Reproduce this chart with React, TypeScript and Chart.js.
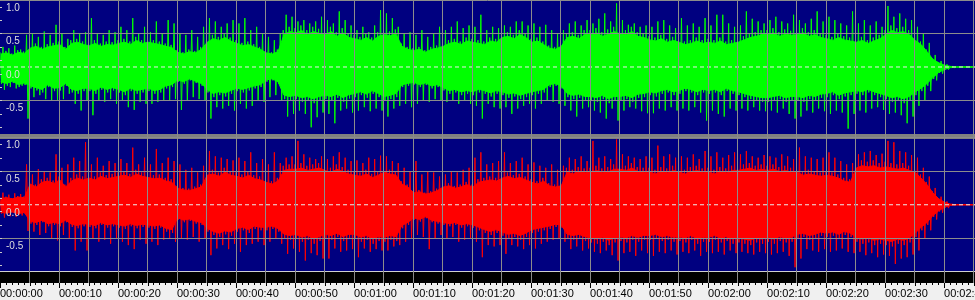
import React, { useEffect, useRef } from 'react';
import { Chart, registerables } from 'chart.js';

Chart.register(...registerables);

// ---- Time axis (seconds) ----
const TIME_MAX = 165.25;
const GRID_STEP_SEC = 5;
const LABEL_STEP_SEC = 10;

// ---- Amplitude axis ----
const AMP_STEP = 0.5;
const AMP_LABEL_MIN = -0.5;
const AMP_LABEL_MAX = 1.0;
const EDGE_MARKS = [0.9, 0.7, 0.5, 0.3, 0.1, -0.1, -0.3, -0.5, -0.7, -0.9];

// One value per second (index = second). Body = dense envelope, peak = spike tips (at +0.5 s).
// ---- Left channel (green) ----
const greenBodyTop = [
  0.22, 0.24, 0.2, 0.25, 0.23,
  0.32, 0.35, 0.3, 0.34, 0.36,
  0.38, 0.3, 0.4, 0.42, 0.38,
  0.36, 0.4, 0.35, 0.38, 0.37,
  0.4, 0.42, 0.38, 0.45, 0.4,
  0.42, 0.4, 0.38, 0.35, 0.33,
  0.25, 0.22, 0.26, 0.24, 0.3,
  0.42, 0.48, 0.45, 0.5, 0.44,
  0.4, 0.36, 0.38, 0.34, 0.3,
  0.24, 0.22, 0.26, 0.55, 0.6,
  0.58, 0.62, 0.55, 0.6, 0.57,
  0.55, 0.6, 0.52, 0.58, 0.5,
  0.48, 0.45, 0.5, 0.44, 0.52,
  0.55, 0.53, 0.56, 0.35, 0.3,
  0.28, 0.3, 0.25, 0.3, 0.32,
  0.35, 0.4, 0.42, 0.38, 0.44,
  0.42, 0.4, 0.38, 0.44, 0.42,
  0.5, 0.52, 0.48, 0.55, 0.5,
  0.42, 0.44, 0.38, 0.32, 0.3,
  0.35, 0.5, 0.52, 0.48, 0.55,
  0.55, 0.58, 0.52, 0.56, 0.6,
  0.56, 0.55, 0.6, 0.52, 0.5,
  0.46, 0.44, 0.48, 0.42, 0.45,
  0.42, 0.38, 0.4, 0.44, 0.4,
  0.42, 0.4, 0.44, 0.38, 0.4,
  0.42, 0.46, 0.5, 0.52, 0.55,
  0.55, 0.58, 0.52, 0.56, 0.54,
  0.55, 0.58, 0.52, 0.55, 0.5,
  0.48, 0.45, 0.5, 0.46, 0.44,
  0.42, 0.45, 0.4, 0.44, 0.48,
  0.55, 0.62, 0.58, 0.6, 0.55,
  0.45, 0.38, 0.26, 0.13, 0.07,
  0.03, 0.01, 0, 0, 0, 0,
];
const greenBodyBottom = [
  0.25, 0.28, 0.24, 0.3, 0.27,
  0.32, 0.35, 0.38, 0.3, 0.36,
  0.35, 0.28, 0.38, 0.4, 0.36,
  0.36, 0.4, 0.34, 0.38, 0.35,
  0.38, 0.42, 0.36, 0.4, 0.38,
  0.36, 0.4, 0.38, 0.32, 0.3,
  0.22, 0.25, 0.2, 0.24, 0.28,
  0.38, 0.45, 0.42, 0.44, 0.4,
  0.36, 0.38, 0.35, 0.32, 0.3,
  0.22, 0.2, 0.25, 0.48, 0.5,
  0.48, 0.52, 0.5, 0.54, 0.5,
  0.48, 0.5, 0.46, 0.52, 0.47,
  0.45, 0.42, 0.46, 0.4, 0.45,
  0.5, 0.48, 0.45, 0.3, 0.28,
  0.26, 0.3, 0.27, 0.32, 0.3,
  0.35, 0.4, 0.38, 0.42, 0.4,
  0.42, 0.38, 0.4, 0.44, 0.4,
  0.42, 0.46, 0.44, 0.48, 0.45,
  0.42, 0.4, 0.38, 0.3, 0.28,
  0.32, 0.45, 0.48, 0.46, 0.5,
  0.5, 0.52, 0.48, 0.54, 0.5,
  0.5, 0.48, 0.52, 0.46, 0.45,
  0.42, 0.44, 0.4, 0.38, 0.42,
  0.4, 0.36, 0.38, 0.42, 0.38,
  0.4, 0.38, 0.42, 0.36, 0.4,
  0.42, 0.45, 0.48, 0.5, 0.52,
  0.52, 0.5, 0.48, 0.52, 0.5,
  0.5, 0.52, 0.48, 0.5, 0.46,
  0.45, 0.42, 0.48, 0.44, 0.42,
  0.4, 0.42, 0.38, 0.42, 0.45,
  0.48, 0.52, 0.5, 0.54, 0.5,
  0.42, 0.36, 0.28, 0.18, 0.09,
  0.04, 0.01, 0, 0, 0, 0,
];
const greenPeakTop = [
  0.3, 0.28, 0.32, 0.26, 0.48,
  0.5, 0.45, 0.53, 0.48, 0.63,
  0.5, 0.42, 0.55, 0.5, 0.52,
  0.73, 0.5, 0.48, 0.55, 0.52,
  0.6, 0.55, 0.73, 0.5, 0.6,
  0.52, 0.68, 0.5, 0.7, 0.65,
  0.5, 0.48, 0.55, 0.45, 0.6,
  0.73, 0.68, 0.6, 0.65, 0.7,
  0.65, 0.73, 0.55, 0.6, 0.5,
  0.45, 0.4, 0.5, 0.78, 0.75,
  0.68, 0.7, 0.65, 0.68, 0.75,
  0.7, 0.65, 0.83, 0.7, 0.62,
  0.55, 0.6, 0.52, 0.62, 0.85,
  0.8, 0.73, 0.6, 0.5, 0.52,
  0.48, 0.55, 0.45, 0.5, 0.6,
  0.55, 0.6, 0.68, 0.58, 0.62,
  0.6, 0.78, 0.55, 0.6, 0.58,
  0.62, 0.6, 0.68, 0.68, 0.62,
  0.65, 0.6, 0.63, 0.55, 0.5,
  0.55, 0.65, 0.68, 0.62, 0.7,
  0.65, 0.72, 0.8, 0.68, 0.95,
  0.7, 0.63, 0.65, 0.6, 0.62,
  0.6, 0.68, 0.7, 0.62, 0.58,
  0.73, 0.62, 0.65, 0.6, 0.73,
  0.62, 0.78, 0.78, 0.65, 0.6,
  0.62, 0.83, 0.72, 0.68, 0.65,
  0.7, 0.75, 0.68, 0.65, 0.78,
  0.7, 0.65, 0.72, 0.83, 0.68,
  0.75, 0.7, 0.65, 0.62, 0.83,
  0.65, 0.7, 0.62, 0.68, 0.6,
  0.91, 0.75, 0.8, 0.72, 0.7,
  0.6, 0.5, 0.36, 0.18, 0.09,
  0.04, 0.01, 0, 0, 0, 0,
];
const greenPeakBottom = [
  0.34, 0.3, 0.32, 0.28, 0.77,
  0.45, 0.42, 0.48, 0.5, 0.5,
  0.48, 0.4, 0.55, 0.65, 0.5,
  0.72, 0.5, 0.52, 0.48, 0.55,
  0.5, 0.6, 0.64, 0.52, 0.55,
  0.55, 0.52, 0.5, 0.5, 0.48,
  0.64, 0.5, 0.45, 0.48, 0.5,
  0.77, 0.6, 0.62, 0.58, 0.65,
  0.55, 0.62, 0.58, 0.5, 0.52,
  0.45, 0.42, 0.5, 0.74, 0.7,
  0.65, 0.7, 0.9, 0.75, 0.68,
  0.7, 0.84, 0.65, 0.62, 0.68,
  0.65, 0.6, 0.66, 0.62, 0.65,
  0.74, 0.62, 0.58, 0.55, 0.6,
  0.55, 0.5, 0.52, 0.48, 0.5,
  0.52, 0.5, 0.55, 0.5, 0.55,
  0.58, 0.77, 0.55, 0.6, 0.62,
  0.6, 0.7, 0.62, 0.58, 0.55,
  0.62, 0.55, 0.5, 0.52, 0.55,
  0.58, 0.65, 0.74, 0.62, 0.6,
  0.65, 0.68, 0.77, 0.62, 0.8,
  0.65, 0.6, 0.62, 0.66, 0.69,
  0.69, 0.62, 0.65, 0.6, 0.65,
  0.62, 0.65, 0.6, 0.68, 0.8,
  0.65, 0.7, 0.74, 0.62, 0.65,
  0.62, 0.65, 0.6, 0.65, 0.66,
  0.65, 0.68, 0.62, 0.7, 0.77,
  0.74, 0.65, 0.68, 0.62, 0.66,
  0.7, 0.65, 0.68, 0.92, 0.7,
  0.65, 0.68, 0.62, 0.6, 0.64,
  0.7, 0.68, 0.72, 0.84, 0.74,
  0.58, 0.5, 0.36, 0.2, 0.1,
  0.04, 0.01, 0, 0, 0, 0,
];

// ---- Right channel (red) ----
const redBodyTop = [
  0.11, 0.12, 0.1, 0.13, 0.12,
  0.35, 0.3, 0.38, 0.4, 0.36,
  0.42, 0.3, 0.4, 0.45, 0.42,
  0.45, 0.42, 0.48, 0.44, 0.46,
  0.48, 0.5, 0.46, 0.52, 0.48,
  0.46, 0.44, 0.45, 0.4, 0.38,
  0.28, 0.25, 0.24, 0.27, 0.3,
  0.5, 0.52, 0.48, 0.55, 0.5,
  0.48, 0.45, 0.5, 0.44, 0.42,
  0.38, 0.35, 0.4, 0.58, 0.6,
  0.6, 0.62, 0.58, 0.6, 0.62,
  0.58, 0.55, 0.6, 0.56, 0.52,
  0.5, 0.48, 0.52, 0.46, 0.5,
  0.55, 0.52, 0.5, 0.35, 0.3,
  0.2, 0.22, 0.18, 0.2, 0.24,
  0.3, 0.32, 0.28, 0.3, 0.34,
  0.3, 0.38, 0.4, 0.42, 0.4,
  0.45, 0.48, 0.44, 0.46, 0.42,
  0.38, 0.35, 0.4, 0.32, 0.3,
  0.32, 0.55, 0.52, 0.56, 0.54,
  0.55, 0.58, 0.54, 0.56, 0.6,
  0.6, 0.58, 0.62, 0.56, 0.55,
  0.55, 0.52, 0.56, 0.54, 0.58,
  0.55, 0.52, 0.56, 0.58, 0.54,
  0.55, 0.52, 0.56, 0.54, 0.58,
  0.58, 0.6, 0.62, 0.58, 0.6,
  0.58, 0.6, 0.56, 0.58, 0.55,
  0.55, 0.5, 0.52, 0.5, 0.48,
  0.5, 0.48, 0.45, 0.4, 0.38,
  0.62, 0.66, 0.64, 0.66, 0.62,
  0.64, 0.62, 0.6, 0.62, 0.58,
  0.55, 0.45, 0.34, 0.2, 0.1,
  0.04, 0.01, 0, 0, 0, 0,
];
const redBodyBottom = [
  0.13, 0.14, 0.12, 0.15, 0.13,
  0.28, 0.3, 0.26, 0.32, 0.3,
  0.32, 0.26, 0.33, 0.35, 0.32,
  0.33, 0.35, 0.3, 0.34, 0.32,
  0.34, 0.36, 0.32, 0.35, 0.33,
  0.34, 0.36, 0.34, 0.4, 0.42,
  0.22, 0.26, 0.24, 0.28, 0.3,
  0.4, 0.45, 0.48, 0.44, 0.46,
  0.4, 0.38, 0.42, 0.36, 0.38,
  0.38, 0.36, 0.4, 0.5, 0.52,
  0.5, 0.55, 0.52, 0.58, 0.54,
  0.5, 0.52, 0.48, 0.54, 0.5,
  0.5, 0.55, 0.52, 0.58, 0.54,
  0.55, 0.52, 0.54, 0.35, 0.3,
  0.22, 0.25, 0.2, 0.26, 0.28,
  0.3, 0.32, 0.3, 0.34, 0.32,
  0.34, 0.38, 0.42, 0.45, 0.42,
  0.46, 0.5, 0.48, 0.52, 0.48,
  0.42, 0.4, 0.38, 0.36, 0.33,
  0.34, 0.5, 0.52, 0.5, 0.54,
  0.56, 0.58, 0.55, 0.6, 0.56,
  0.54, 0.56, 0.52, 0.55, 0.52,
  0.52, 0.5, 0.54, 0.52, 0.55,
  0.54, 0.56, 0.52, 0.58, 0.55,
  0.55, 0.52, 0.56, 0.54, 0.58,
  0.56, 0.58, 0.6, 0.56, 0.58,
  0.55, 0.58, 0.54, 0.56, 0.55,
  0.5, 0.48, 0.52, 0.5, 0.46,
  0.48, 0.46, 0.5, 0.45, 0.48,
  0.55, 0.58, 0.56, 0.6, 0.58,
  0.6, 0.62, 0.58, 0.6, 0.56,
  0.48, 0.38, 0.3, 0.18, 0.1,
  0.04, 0.01, 0, 0, 0, 0,
];
const redPeakTop = [
  0.18, 0.15, 0.17, 0.16, 0.6,
  0.45, 0.53, 0.5, 0.48, 0.75,
  0.55, 0.6, 0.7, 0.65, 0.93,
  0.6, 0.7, 0.58, 0.65, 0.62,
  0.68, 0.62, 0.85, 0.6, 0.7,
  0.6, 0.83, 0.62, 0.7, 0.65,
  0.6, 0.52, 0.55, 0.48, 0.58,
  0.8, 0.72, 0.7, 0.68, 0.66,
  0.7, 0.65, 0.78, 0.62, 0.68,
  0.6, 0.78, 0.62, 0.7, 0.72,
  0.95, 0.75, 0.7, 0.68, 0.72,
  0.68, 0.72, 0.78, 0.7, 0.65,
  0.66, 0.62, 0.7, 0.68, 0.73,
  0.72, 0.65, 0.62, 0.55, 0.5,
  0.65, 0.45, 0.5, 0.48, 0.42,
  0.45, 0.5, 0.48, 0.52, 0.55,
  0.7, 0.78, 0.6, 0.62, 0.65,
  0.78, 0.62, 0.65, 0.7, 0.6,
  0.63, 0.58, 0.55, 0.6, 0.52,
  0.58, 0.7, 0.68, 0.72, 0.65,
  0.95, 0.7, 0.72, 0.68, 0.97,
  0.75, 0.72, 0.7, 0.68, 0.72,
  0.7, 0.88, 0.72, 0.75, 0.7,
  0.72, 0.7, 0.75, 0.68, 0.8,
  0.72, 0.78, 0.7, 0.74, 0.78,
  0.75, 0.8, 0.72, 0.7, 0.74,
  0.72, 0.7, 0.75, 0.72, 0.68,
  0.85, 0.72, 0.7, 0.68, 0.7,
  0.78, 0.7, 0.65, 0.6, 0.62,
  0.75, 0.78, 0.8, 0.74, 0.76,
  0.95, 0.93, 0.8, 0.78, 0.74,
  0.7, 0.55, 0.42, 0.25, 0.12,
  0.05, 0.01, 0, 0, 0, 0,
];
const redPeakBottom = [
  0.19, 0.17, 0.18, 0.16, 0.39,
  0.4, 0.45, 0.42, 0.5, 0.53,
  0.45, 0.5, 0.68, 0.55, 0.68,
  0.5, 0.55, 0.52, 0.58, 0.5,
  0.55, 0.6, 0.66, 0.52, 0.58,
  0.55, 0.6, 0.52, 0.5, 0.55,
  0.5, 0.52, 0.48, 0.55, 0.5,
  0.75, 0.65, 0.6, 0.66, 0.58,
  0.7, 0.6, 0.58, 0.55, 0.6,
  0.55, 0.5, 0.58, 0.73, 0.65,
  0.7, 0.83, 0.72, 0.75, 0.8,
  0.8, 0.65, 0.7, 0.68, 0.66,
  0.78, 0.65, 0.7, 0.66, 0.68,
  0.68, 0.62, 0.6, 0.55, 0.5,
  0.45, 0.48, 0.66, 0.5, 0.45,
  0.5, 0.48, 0.55, 0.52, 0.5,
  0.55, 0.78, 0.6, 0.62, 0.6,
  0.73, 0.6, 0.62, 0.66, 0.6,
  0.65, 0.58, 0.55, 0.52, 0.5,
  0.55, 0.66, 0.62, 0.68, 0.65,
  0.7, 0.72, 0.68, 0.75, 0.83,
  0.72, 0.7, 0.76, 0.68, 0.72,
  0.76, 0.7, 0.72, 0.68, 0.74,
  0.7, 0.72, 0.68, 0.76, 0.7,
  0.72, 0.7, 0.74, 0.68, 0.72,
  0.7, 0.72, 0.74, 0.7, 0.72,
  0.74, 0.72, 0.7, 0.76, 0.93,
  0.8, 0.66, 0.68, 0.7, 0.66,
  0.7, 0.68, 0.65, 0.7, 0.72,
  0.7, 0.75, 0.72, 0.78, 0.74,
  0.76, 0.88, 0.8, 0.78, 0.74,
  0.68, 0.5, 0.38, 0.22, 0.12,
  0.05, 0.01, 0, 0, 0, 0,
];

// ---- Styles ----
const NAVY = '#000080';
const GRID = '#8c8c8c';
const SEPARATOR = '#808080';
const RULER_BG = '#f0f0f0';
const GREEN = '#00ff00';
const RED = '#ff0000';
const ZERO_DASH = '#ececec';
const AMP_LABEL = '#dedede';
// solid core of the waveform drawn at this share of the body envelope;
// the zig-zag trace fills the rest with a ragged edge
const CORE_RATIO = 0.88;

// vertical placement of the two channels inside one plot area (272 px high)
const TOP_MIN = -3.06;
const TOP_MAX = 1;
const BOT_MIN = -1;
const BOT_MAX = 3.045;

function hms(sec: number): string {
  const s = Math.round(sec);
  const h = Math.floor(s / 3600);
  const m = Math.floor(s / 60) % 60;
  const ss = s % 60;
  const p = (n: number) => String(n).padStart(2, '0');
  return `${p(h)}:${p(m)}:${p(ss)}`;
}

function wave(bodyTop: number[], bodyBot: number[], peakTop: number[], peakBot: number[]) {
  const pts: { x: number; y: number }[] = [];
  for (let i = 0; i < bodyTop.length; i++) {
    pts.push({ x: i, y: bodyTop[i] });
    pts.push({ x: i + 0.25, y: -bodyBot[i] });
    pts.push({ x: i + 0.5, y: peakTop[i] });
    pts.push({ x: i + 0.75, y: -peakBot[i] });
  }
  return pts;
}

function band(vals: number[], sign: number) {
  return vals.map((v, i) => ({ x: i + 0.125, y: sign * v * CORE_RATIO }));
}

const zeroFit = (s: any) => {
  s.width = 0;
  s.paddingTop = 0;
  s.paddingBottom = 0;
  s.paddingLeft = 0;
  s.paddingRight = 0;
};

const isZero = (v: number) => Math.abs(v) < 1e-9;

const backdrop = {
  id: 'backdrop',
  beforeDraw(chart: any) {
    const { ctx, chartArea: a, width, height, scales } = chart;
    ctx.save();
    ctx.fillStyle = RULER_BG;
    ctx.fillRect(0, 0, width, height);
    ctx.fillStyle = NAVY;
    ctx.fillRect(a.left, a.top, a.right - a.left, a.bottom - a.top);
    const sepTop = scales.yTop.getPixelForValue(-1);
    const sepBot = scales.yBot.getPixelForValue(1);
    ctx.fillStyle = SEPARATOR;
    ctx.fillRect(0, Math.round(sepTop), width, Math.round(sepBot - sepTop) + 1);
    ctx.fillStyle = '#000000';
    ctx.fillRect(0, a.bottom, width, 11);
    ctx.restore();
  },
  afterDatasetsDraw(chart: any) {
    const { ctx, chartArea: a, width } = chart;
    ctx.save();
    ctx.fillStyle = '#d0d0d0';
    ctx.fillRect(0, a.bottom - 1, width, 1);
    ctx.restore();
  },
  afterDraw(chart: any) {
    const { ctx, chartArea: a, scales } = chart;
    ctx.save();
    const x = scales.x;
    const rulerTop = a.bottom + 11;
    ctx.fillStyle = '#000000';
    for (let t = 0; t <= Math.floor(TIME_MAX); t++) {
      const px = Math.round(x.getPixelForValue(t));
      const len = t % LABEL_STEP_SEC === 0 ? 5 : t % GRID_STEP_SEC === 0 ? 3 : 2;
      ctx.fillRect(px, rulerTop, 1, len);
    }
    ctx.fillStyle = '#c8c8c8';
    for (const id of ['yTop', 'yBot']) {
      for (const v of EDGE_MARKS) {
        const py = Math.round(scales[id].getPixelForValue(v));
        ctx.fillRect(0, py, 2, 1);
      }
    }
    ctx.restore();
  },
};

export default function App() {
  const ref = useRef<HTMLCanvasElement>(null);

  useEffect(() => {
    if (!ref.current) return;
    const common = {
      pointRadius: 0,
      pointHoverRadius: 0,
      tension: 0,
      borderJoinStyle: 'bevel' as const,
    };
    const chart = new Chart(ref.current, {
      type: 'line',
      data: {
        datasets: [
          {
            ...common,
            data: [{ x: 0, y: 0 }, { x: TIME_MAX, y: 0 }],
            yAxisID: 'yTop',
            borderColor: ZERO_DASH,
            borderWidth: 1,
            borderDash: [4, 3],
            order: 0,
          },
          {
            ...common,
            data: [{ x: 0, y: 0 }, { x: TIME_MAX, y: 0 }],
            yAxisID: 'yBot',
            borderColor: ZERO_DASH,
            borderWidth: 1,
            borderDash: [4, 3],
            order: 0,
          },
          {
            ...common,
            data: wave(greenBodyTop, greenBodyBottom, greenPeakTop, greenPeakBottom),
            yAxisID: 'yTop',
            borderColor: GREEN,
            borderWidth: 1,
            order: 1,
          },
          {
            ...common,
            data: wave(redBodyTop, redBodyBottom, redPeakTop, redPeakBottom),
            yAxisID: 'yBot',
            borderColor: RED,
            borderWidth: 1,
            order: 1,
          },
          {
            ...common,
            data: band(greenBodyTop, 1),
            yAxisID: 'yTop',
            borderColor: GREEN,
            borderWidth: 1,
            order: 2,
          },
          {
            ...common,
            data: band(greenBodyBottom, -1),
            yAxisID: 'yTop',
            borderColor: GREEN,
            backgroundColor: GREEN,
            borderWidth: 1,
            fill: '-1',
            order: 2,
          },
          {
            ...common,
            data: band(redBodyTop, 1),
            yAxisID: 'yBot',
            borderColor: RED,
            borderWidth: 1,
            order: 2,
          },
          {
            ...common,
            data: band(redBodyBottom, -1),
            yAxisID: 'yBot',
            borderColor: RED,
            backgroundColor: RED,
            borderWidth: 1,
            fill: '-1',
            order: 2,
          },
        ],
      },
      options: {
        animation: false,
        responsive: false,
        devicePixelRatio: 1,
        events: [],
        layout: { padding: 0 },
        plugins: {
          legend: { display: false },
          tooltip: { enabled: false },
          title: { display: false },
        },
        scales: {
          x: {
            type: 'linear',
            position: 'bottom',
            min: 0,
            max: TIME_MAX,
            afterFit: (s: any) => {
              s.height = 28;
              s.paddingLeft = 0;
              s.paddingRight = 0;
            },
            grid: {
              color: (c: any) => (c.tick && isZero(c.tick.value) ? 'rgba(0,0,0,0)' : GRID),
              lineWidth: 1,
              tickLength: 11,
              drawTicks: true,
              z: 1,
            },
            border: { display: false },
            ticks: {
              stepSize: GRID_STEP_SEC,
              includeBounds: false,
              autoSkip: false,
              maxRotation: 0,
              minRotation: 0,
              align: 'start',
              padding: 4,
              color: '#000000',
              font: { family: 'Liberation Sans', size: 11 },
              z: 1,
              callback: (v: any) => (Number(v) % LABEL_STEP_SEC === 0 ? hms(Number(v)) : ''),
            },
          },
          yTop: {
            type: 'linear',
            position: 'left',
            min: TOP_MIN,
            max: TOP_MAX,
            afterFit: zeroFit,
            grid: {
              color: (c: any) => (c.tick && isZero(c.tick.value) ? 'rgba(0,0,0,0)' : GRID),
              drawTicks: false,
              z: 1,
            },
            border: { display: false },
            ticks: {
              stepSize: AMP_STEP,
              includeBounds: false,
              autoSkip: false,
              mirror: true,
              padding: 6,
              labelOffset: 8,
              color: AMP_LABEL,
              font: { family: 'Liberation Sans', size: 10 },
              z: 1,
              callback: (v: any) => {
                const n = Number(v);
                return n >= AMP_LABEL_MIN - 1e-9 && n <= AMP_LABEL_MAX + 1e-9 ? n.toFixed(1) : null;
              },
            },
          },
          yBot: {
            type: 'linear',
            position: 'left',
            min: BOT_MIN,
            max: BOT_MAX,
            afterFit: zeroFit,
            grid: {
              color: (c: any) => (c.tick && isZero(c.tick.value) ? 'rgba(0,0,0,0)' : GRID),
              drawTicks: false,
              z: 1,
            },
            border: { display: false },
            ticks: {
              stepSize: AMP_STEP,
              includeBounds: false,
              autoSkip: false,
              mirror: true,
              padding: 6,
              labelOffset: 8,
              color: AMP_LABEL,
              font: { family: 'Liberation Sans', size: 10 },
              z: 1,
              callback: (v: any) => {
                const n = Number(v);
                return n >= AMP_LABEL_MIN - 1e-9 && n <= AMP_LABEL_MAX + 1e-9 ? n.toFixed(1) : null;
              },
            },
          },
        },
      } as any,
      plugins: [backdrop],
    });
    return () => chart.destroy();
  }, []);

  return (
    <div style={{ position: 'fixed', left: 0, top: 0, width: 975, height: 300 }}>
      <canvas ref={ref} width={975} height={300} style={{ display: 'block' }} />
    </div>
  );
}
